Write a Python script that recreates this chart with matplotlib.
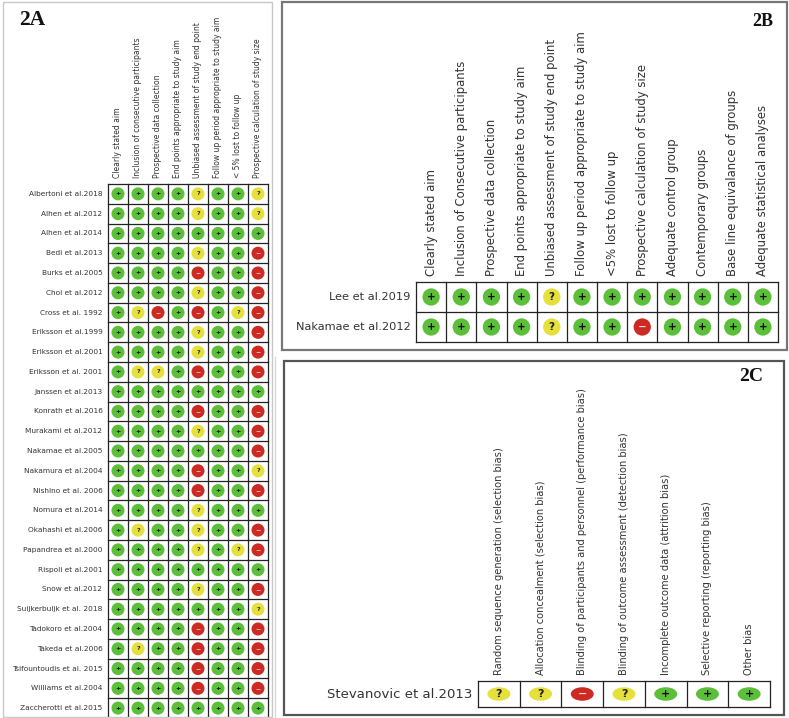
import matplotlib
matplotlib.use("Agg")
import matplotlib.pyplot as plt
from matplotlib import patches, font_manager
from matplotlib.textpath import TextPath
from matplotlib.font_manager import FontProperties

# ---------------- data ----------------
studies_a = ["Albertoni et al.2018", "Alhen et al.2012", "Alhen et al.2014", "Bedi et al.2013",
             "Burks et al.2005", "Choi et al.2012", "Cross et al. 1992", "Eriksson et al.1999",
             "Eriksson et al.2001", "Eriksson et al. 2001", "Janssen et al.2013", "Konrath et al.2016",
             "Murakami et al.2012", "Nakamae et al.2005", "Nakamura et al.2004", "Nishino et al. 2006",
             "Nomura et al.2014", "Okahashi et al.2006", "Papandrea et al.2000", "Rispoli et al.2001",
             "Snow et al.2012", "Suijkerbuijk et al. 2018", "Tadokoro et al.2004", "Takeda et al.2006",
             "Tsifountoudis et al. 2015", "Williams et al.2004", "Zaccherotti et al.2015"]
criteria_a = ["Clearly stated aim", "Inclusion of consecutive participants", "Prospective data collection",
              "End points appropriate to study aim", "Unbiased assessment of study end point",
              "Follow up period appropriate to study aim", "< 5% lost to follow up",
              "Prospective calculation of study size"]
ratings_a = ["++++?++?", "++++?++?", "++++++++", "++++?++-", "++++-++-", "++++?++-",
             "+?-+-+?-", "++++?++-", "++++?++-", "+??+-++-", "++++++++", "++++-++-",
             "++++?++-", "+++++++-", "++++-++?", "++++-++-", "++++?+++", "+?++?++-",
             "++++?+?-", "++++++++", "++++?++-", "+++++++?", "++++-++-", "+?++-++-",
             "++++-++-", "++++-++-", "++++++++"]

studies_b = ["Lee et al.2019", "Nakamae et al.2012"]
criteria_b = ["Clearly stated aim", "Inclusion of Consecutive participants", "Prospective data collection",
              "End points appropriate to study aim", "Unbiased assessment of study end point",
              "Follow up period appropriate to study aim", "<5% lost to follow up",
              "Prospective calculation of study size", "Adequate control group", "Contemporary groups",
              "Base line equivalance of groups", "Adequate statistical analyses"]
ratings_b = ["++++?+++++++", "++++?++-++++"]

studies_c = ["Stevanovic et al.2013"]
criteria_c = ["Random sequence generation (selection bias)", "Allocation concealment (selection bias)",
              "Blinding of participants and personnel (performance bias)",
              "Blinding of outcome assessment (detection bias)",
              "Incomplete outcome data (attrition bias)", "Selective reporting (reporting bias)",
              "Other bias"]
ratings_c = ["??-?+++"]

# ---------------- style ----------------
COL = {"+": "#5cbf3a", "?": "#e6e03c", "-": "#cc2a22"}
SYM = {"+": "+", "?": "?", "-": "\u2212"}
SYMCOL = {"+": "#111111", "?": "#222222", "-": "#f3d6d6"}
TXT = "#333333"

# find a condensed / narrow sans font for panel 2C headers
narrow_prop = None
pref = ["LiberationSansNarrow-Regular", "DejaVuSansCondensed.ttf", "RobotoCondensed-Regular",
        "OpenSans_Condensed-Regular", "OpenSansCondensed", "Roboto_Condensed"]
files = [f.fname for f in font_manager.fontManager.ttflist]
for p in pref:
    hits = [f for f in files if p.lower() in f.lower()]
    if hits:
        narrow_prop = FontProperties(fname=hits[0])
        break
if narrow_prop is None:
    for f in font_manager.fontManager.ttflist:
        n = f.fname.lower()
        if ("condensed" in n or "narrow" in n) and "bold" not in n and "italic" not in n \
                and "oblique" not in n and "light" not in n and "mono" not in n and "serif" not in n:
            narrow_prop = FontProperties(fname=f.fname)
            break
if narrow_prop is None:
    narrow_prop = FontProperties(family="DejaVu Sans")

# size so the longest 2C header spans ~285 px
_longest = max(criteria_c, key=len)
_w = TextPath((0, 0), _longest, size=10, prop=narrow_prop).get_extents().width * 100 / 72
colfs_c = 10 * 285 / _w

W, H = 789, 718
fig = plt.figure(figsize=(W / 100, H / 100), dpi=100)
fig.patch.set_facecolor("white")


def fx(px):
    return px / W


def fy(py):
    return 1 - py / H


def add_axes(x0, y0, x1, y1):
    return fig.add_axes([fx(x0), fy(y1), (x1 - x0) / W, (y1 - y0) / H])


def draw_panel(ax, studies, criteria, ratings, csize, symsize, rowfs, colfs,
               colprop=None, ellipse=None):
    nr, nc = len(studies), len(criteria)
    ax.set_xlim(-0.5, nc - 0.5)
    ax.set_ylim(nr - 0.5, -0.5)
    ax.set_axis_off()
    for k in range(nc + 1):
        ax.axvline(k - 0.5, color="#222222", lw=0.9, clip_on=False)
    for k in range(nr + 1):
        ax.axhline(k - 0.5, color="#222222", lw=0.9, clip_on=False)
    xs, ys, cs = [], [], []
    for i, row in enumerate(ratings):
        for j, r in enumerate(row):
            xs.append(j)
            ys.append(i)
            cs.append(COL[r])
            ax.text(j, i, SYM[r], ha="center", va="center", fontsize=symsize,
                    fontweight="bold", color=SYMCOL[r])
    if ellipse is None:
        ax.scatter(xs, ys, s=csize, c=cs, edgecolors="none", zorder=1)
    else:
        for x, y, c in zip(xs, ys, cs):
            ax.add_patch(patches.Ellipse((x, y), ellipse[0], ellipse[1], facecolor=c,
                                         edgecolor="none", zorder=1))
    for i, s in enumerate(studies):
        ax.annotate(s, xy=(-0.5, i), xytext=(-4, 0), textcoords="offset points",
                    ha="right", va="center", fontsize=rowfs, color=TXT,
                    annotation_clip=False)
    for j, c in enumerate(criteria):
        kw = {}
        if colprop is not None:
            p = colprop.copy()
            p.set_size(colfs)
            kw["fontproperties"] = p
        else:
            kw["fontsize"] = colfs
        ax.annotate(c, xy=(j, -0.5), xytext=(0, 4), textcoords="offset points",
                    ha="center", va="bottom", rotation=90, color=TXT,
                    annotation_clip=False, **kw)


# panel frames
fig.add_artist(patches.Rectangle((fx(3), fy(717)), (272 - 3) / W, (717 - 2) / H,
                                 transform=fig.transFigure, fill=False, ec="#c8c8c8", lw=1))
fig.add_artist(plt.Line2D([fx(275), fx(275)], [fy(357), fy(717)], transform=fig.transFigure,
                          color="#d8d8d8", lw=1))
fig.add_artist(patches.Rectangle((fx(282), fy(350)), (787 - 282) / W, (350 - 2) / H,
                                 transform=fig.transFigure, fill=False, ec="#777777", lw=1.6))
fig.add_artist(patches.Rectangle((fx(284), fy(715)), (784 - 284) / W, (715 - 361) / H,
                                 transform=fig.transFigure, fill=False, ec="#555555", lw=1.6))

ax_a = add_axes(108, 184, 268, 718)
draw_panel(ax_a, studies_a, criteria_a, ratings_a, csize=88, symsize=4.5, rowfs=5.3, colfs=5.5)

ax_b = add_axes(416, 282, 778, 342)
draw_panel(ax_b, studies_b, criteria_b, ratings_b, csize=155, symsize=7.5, rowfs=8.2, colfs=8.4)

ax_c = add_axes(478, 681, 770, 707)
draw_panel(ax_c, studies_c, criteria_c, ratings_c, csize=None, symsize=8, rowfs=9.5,
           colfs=colfs_c, colprop=narrow_prop, ellipse=(0.55, 0.52))

# titles
serif = "Liberation Serif"
fig.text(fx(19), fy(10), "2A", ha="left", va="top", fontsize=15.5, fontweight="bold",
         family=serif, color="#111111")
fig.text(fx(773), fy(13), "2B", ha="right", va="top", fontsize=13, fontweight="bold",
         family=serif, color="#111111")
fig.text(fx(763), fy(368), "2C", ha="right", va="top", fontsize=14, fontweight="bold",
         family=serif, color="#111111")

fig.savefig("out.png", dpi=100, facecolor="white")
